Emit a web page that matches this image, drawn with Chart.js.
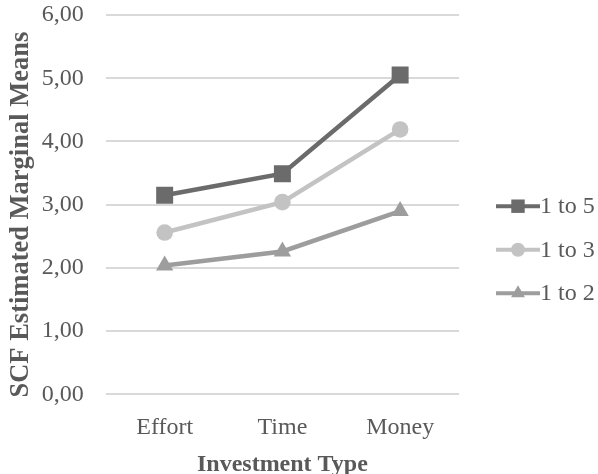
<!DOCTYPE html>
<html>
<head>
<meta charset="utf-8">
<script src="https://cdn.jsdelivr.net/npm/chart.js@4"></script>
<style>
  html, body { margin: 0; padding: 0; background: #fff; }
  #wrap { position: relative; width: 598px; height: 474px; }
</style>
</head>
<body>
<div id="wrap"><canvas id="chart" aria-label="SCF Estimated Marginal Means by Investment Type"></canvas></div>
<script>
// categories and series
const categories = ['Effort', 'Time', 'Money'];
const ratio1to5 = [3.15, 3.49, 5.05];
const ratio1to3 = [2.56, 3.04, 4.19];
const ratio1to2 = [2.04, 2.26, 2.90];
const seriesNames = ['1 to 5', '1 to 3', '1 to 2'];
const yTicks = [0, 1, 2, 3, 4, 5, 6];

const FONT = '"Liberation Serif", "DejaVu Serif", serif';
const TEXT = '#595959';
const SIZE = 24;

// legend on the right: line with a marker, then the label
const sideLegend = {
  id: 'sideLegend',
  afterDraw(chart) {
    const { ctx, chartArea } = chart;
    const n = chart.data.datasets.length;
    const gap = 43.5;
    const midY = (chartArea.top + chartArea.bottom) / 2 + 45;
    const x0 = chartArea.right + 37;
    ctx.save();
    chart.data.datasets.forEach((ds, i) => {
      const y = midY + (i - (n - 1) / 2) * gap;
      ctx.strokeStyle = ds.borderColor;
      ctx.lineWidth = 4;
      ctx.beginPath();
      ctx.moveTo(x0, y);
      ctx.lineTo(x0 + 44, y);
      ctx.stroke();
      ctx.fillStyle = ds.backgroundColor;
      Chart.helpers.drawPoint(ctx, {
        pointStyle: ds.pointStyle,
        radius: ds.legendRadius,
        borderWidth: 0,
        rotation: 0
      }, x0 + 22, y);
      ctx.fillStyle = TEXT;
      ctx.font = SIZE + 'px ' + FONT;
      ctx.textBaseline = 'middle';
      ctx.textAlign = 'left';
      ctx.fillText(ds.label, x0 + 44, y + 1);
    });
    ctx.restore();
  }
};

new Chart(document.getElementById('chart'), {
  type: 'line',
  data: {
    labels: categories,
    datasets: [
      {
        label: seriesNames[0], data: ratio1to5,
        borderColor: '#6b6b6b', backgroundColor: '#6b6b6b',
        pointStyle: 'rect', pointRadius: 12, legendRadius: 9.5
      },
      {
        label: seriesNames[1], data: ratio1to3,
        borderColor: '#c3c3c3', backgroundColor: '#c3c3c3',
        pointStyle: 'circle', pointRadius: 8.3, legendRadius: 7
      },
      {
        label: seriesNames[2], data: ratio1to2,
        borderColor: '#9d9d9d', backgroundColor: '#9d9d9d',
        pointStyle: 'triangle', pointRadius: 10, legendRadius: 8
      }
    ].map(d => Object.assign({
      borderWidth: 4.5,
      pointBorderWidth: 0,
      pointHoverRadius: d.pointRadius,
      tension: 0
    }, d))
  },
  options: {
    responsive: true,
    maintainAspectRatio: false,
    animation: false,
    layout: { padding: { top: 15, right: 139, bottom: -5, left: 2 } },
    plugins: {
      legend: { display: false },
      tooltip: { enabled: false }
    },
    scales: {
      x: {
        offset: true,
        grid: { display: false, drawTicks: false },
        border: { display: false },
        ticks: { color: TEXT, font: { family: FONT, size: SIZE }, padding: 19 },
        title: {
          display: true, text: 'Investment Type', color: TEXT,
          font: { family: FONT, size: SIZE, weight: 'bold' }, padding: { top: -11, bottom: 0 }
        }
      },
      y: {
        min: 0, max: 6,
        afterBuildTicks: (axis) => { axis.ticks = yTicks.map(v => ({ value: v })); },
        // ticks.padding is added to the top padding too; keep the top edge from layout only
        afterFit: (axis) => { axis.paddingTop = 0; },
        grid: { color: '#d9d9d9', lineWidth: 2, drawTicks: false },
        border: { display: false },
        ticks: {
          color: TEXT, font: { family: FONT, size: SIZE }, padding: 22,
          callback: (v) => v.toFixed(2).replace('.', ',')
        },
        title: {
          display: true, text: 'SCF Estimated Marginal Means\u2002 ', color: TEXT,
          font: { family: FONT, size: 26.5, weight: 'bold' }, padding: { top: 3, bottom: -17 }
        }
      }
    }
  },
  plugins: [sideLegend]
});
</script>
</body>
</html>
